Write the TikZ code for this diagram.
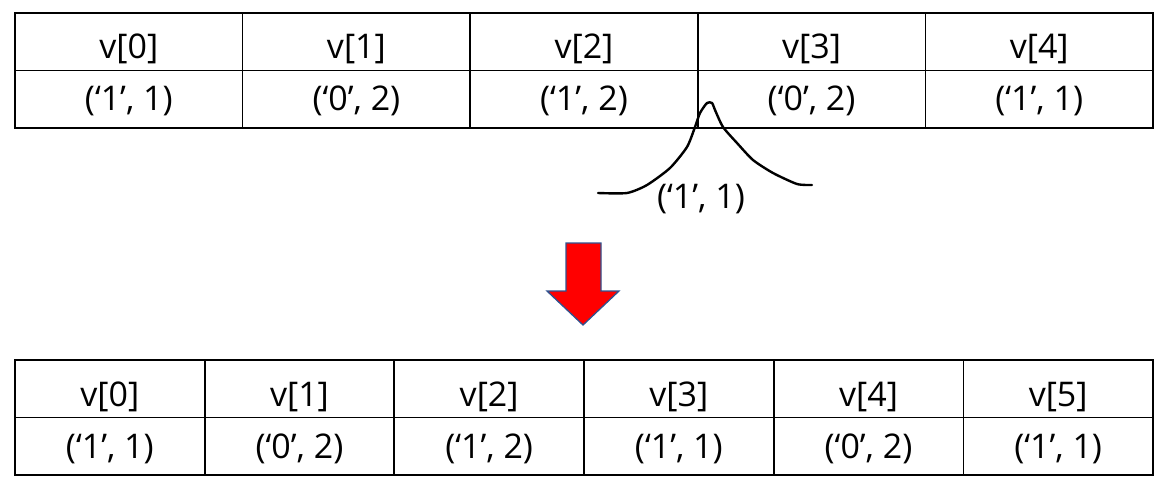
\documentclass[tikz,border=0pt]{standalone}
\usepackage{fontspec}
\setmainfont{Open Sans}
\definecolor{arrowline}{RGB}{47,82,143}
\begin{document}
\begin{tikzpicture}[x=1pt,y=-1pt,
  cell/.style={draw=black, line width=1.7pt, inner sep=0pt, minimum height=57.5pt, font=\fontsize{34}{40}\selectfont, text=black, text depth=0pt},
  topcell/.style={cell, minimum width=227.6pt},
  botcell/.style={cell, minimum width=189.67pt},
  hdr/.style={text height=34pt},
  val/.style={text height=23pt},
  bhdr/.style={text height=35pt},
  bval/.style={text height=25pt}]
\useasboundingbox (0,0) rectangle (1170,498);
% top table
\foreach \i/\a in {0/{(‘1’, 1)},1/{(‘0’, 2)},2/{(‘1’, 2)},3/{(‘0’, 2)},4/{(‘1’, 1)}}{
  \node[topcell, hdr] (ta\i) at ({15+227.6*\i+113.8},41.75) {v[\i]};
  \node[topcell, val] (tb\i) at ({15+227.6*\i+113.8},99.25) {\a};
}
% bottom table
\foreach \i/\a in {0/{(‘1’, 1)},1/{(‘0’, 2)},2/{(‘1’, 2)},3/{(‘1’, 1)},4/{(‘0’, 2)},5/{(‘1’, 1)}}{
  \node[botcell, bhdr] (ba\i) at ({15+189.67*\i+94.83},388.75) {v[\i]};
  \node[botcell, bval] (bb\i) at ({15+189.67*\i+94.83},446.25) {\a};
}
% insertion mark
\draw[line width=2.4pt, line join=round, line cap=round] plot[smooth, tension=0.4] coordinates {
 (598,193) (627,193) (647,185) (670,168) (687,147) (695,127) (700,113) (707,103) (712,103) (715,110) (723,127) (737,143) (753,160) (773,173) (797,184) (812,185)};
\node[font=\fontsize{34}{40}\selectfont, inner sep=0pt, anchor=base] (ins) at (701,208) {(‘1’, 1)};
% red arrow
\draw[fill=red, draw=arrowline, line width=1.3pt, line join=miter]
  (566,243) -- (601,243) -- (601,291) -- (619,291) -- (583,325) -- (547,291) -- (566,291) -- cycle;
\end{tikzpicture}
\end{document}
